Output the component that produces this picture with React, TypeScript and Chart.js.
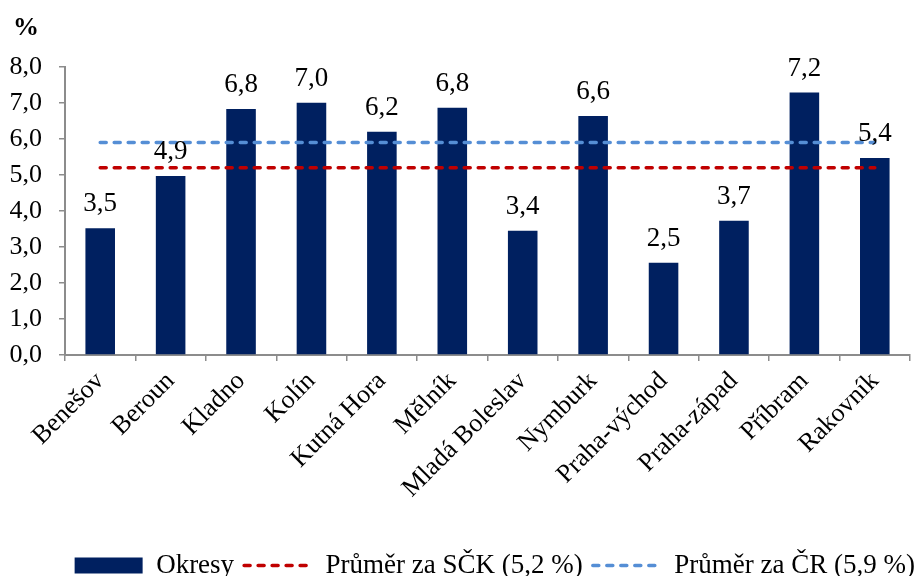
import React, { useEffect, useRef } from "react";
import { Chart, registerables } from "chart.js";

Chart.register(...registerables);

const categories = [
  "Benešov", "Beroun", "Kladno", "Kolín", "Kutná Hora", "Mělník",
  "Mladá Boleslav", "Nymburk", "Praha-východ", "Praha-západ", "Příbram", "Rakovník",
];
const okresy = [3.52, 4.97, 6.83, 7.01, 6.2, 6.87, 3.45, 6.64, 2.56, 3.73, 7.29, 5.47];
const okresyLabels = ["3,5", "4,9", "6,8", "7,0", "6,2", "6,8", "3,4", "6,6", "2,5", "3,7", "7,2", "5,4"];
const prumerSCK = [5.2, 5.2, 5.2, 5.2, 5.2, 5.2, 5.2, 5.2, 5.2, 5.2, 5.2, 5.2];
const prumerCR = [5.9, 5.9, 5.9, 5.9, 5.9, 5.9, 5.9, 5.9, 5.9, 5.9, 5.9, 5.9];
const yTicks = [0, 1, 2, 3, 4, 5, 6, 7, 8];
const seriesNames = ["Okresy", "Průměr za SČK (5,2 %)", "Průměr za ČR (5,9 %)"];
const seriesColors = ["#002060", "#C00000", "#558ED5"];

const FONT = "'Liberation Serif', 'Times New Roman', serif";
const AXIS = "#8c8c8c";
const DASH = [6, 8];
const PAD_BOTTOM = -13;

const valueLabelPlugin = {
  id: "valueLabels",
  afterDatasetsDraw(chart: any) {
    const meta = chart.getDatasetMeta(0);
    const ctx = chart.ctx;
    ctx.save();
    ctx.font = `27px ${FONT}`;
    ctx.fillStyle = "#000";
    ctx.textAlign = "center";
    ctx.textBaseline = "alphabetic";
    meta.data.forEach((el: any, i: number) => {
      ctx.fillText(okresyLabels[i], el.x, el.y - 17);
    });
    ctx.restore();
  },
};

const percentPlugin = {
  id: "percentTitle",
  afterDraw(chart: any) {
    const ctx = chart.ctx;
    ctx.save();
    ctx.font = `bold 26px ${FONT}`;
    ctx.fillStyle = "#000";
    ctx.textAlign = "left";
    ctx.textBaseline = "alphabetic";
    ctx.fillText("%", 13, 35);
    ctx.restore();
  },
};

export default function App() {
  const ref = useRef<HTMLCanvasElement | null>(null);

  useEffect(() => {
    document.body.style.margin = "0";
    if (!ref.current) return;
    const chart = new Chart(ref.current, {
      type: "bar",
      data: {
        labels: categories,
        datasets: [
          {
            type: "bar",
            label: seriesNames[0],
            data: okresy,
            backgroundColor: seriesColors[0],
            borderWidth: 0,
            barPercentage: 0.84,
            categoryPercentage: 0.5,
            yAxisID: "y",
            order: 2,
          } as any,
          {
            type: "line",
            label: seriesNames[1],
            data: prumerSCK,
            borderColor: seriesColors[1],
            backgroundColor: seriesColors[1],
            borderWidth: 3.5,
            borderDash: DASH,
            borderCapStyle: "round",
            pointRadius: 0,
            fill: false,
            yAxisID: "y",
            order: 1,
          } as any,
          {
            type: "line",
            label: seriesNames[2],
            data: prumerCR,
            borderColor: seriesColors[2],
            backgroundColor: seriesColors[2],
            borderWidth: 3.5,
            borderDash: DASH,
            borderCapStyle: "round",
            pointRadius: 0,
            fill: false,
            yAxisID: "y",
            order: 0,
          } as any,
        ],
      },
      options: {
        animation: false,
        responsive: true,
        maintainAspectRatio: false,
        layout: { padding: { left: 0, right: -8, top: 67, bottom: PAD_BOTTOM } },
        plugins: {
          title: { display: false },
          tooltip: { enabled: false },
          legend: {
            display: true,
            position: "bottom",
            align: "end",
            labels: {
              font: { family: FONT, size: 27 },
              color: "#000",
              usePointStyle: true,
              pointStyleWidth: 68,
              boxHeight: 16,
              padding: 10,
              generateLabels: () =>
                seriesNames.map((name, i) => ({
                  text: name,
                  datasetIndex: i,
                  hidden: false,
                  fillStyle: seriesColors[i],
                  strokeStyle: seriesColors[i],
                  fontColor: "#000",
                  lineWidth: i === 0 ? 0 : 3.5,
                  lineDash: i === 0 ? [] : DASH,
                  lineCap: "round",
                  pointStyle: i === 0 ? "rect" : "line",
                })),
            },
          },
        },
        scales: {
          x: {
            offset: true,
            grid: {
              display: true,
              offset: true,
              drawOnChartArea: false,
              drawTicks: true,
              tickLength: 6,
              color: AXIS,
              lineWidth: 1.5,
            },
            border: { display: true, color: AXIS, width: 2 },
            ticks: {
              font: { family: FONT, size: 26 },
              color: "#000",
              minRotation: 45,
              maxRotation: 45,
              autoSkip: false,
              padding: 5,
            },
            afterFit(scale: any) {
              const lh = scale.chart.legend ? scale.chart.legend.height : 0;
              scale.height = 576 - PAD_BOTTOM - 355 - lh;
            },
          },
          y: {
            min: 0,
            max: 8,
            grid: {
              display: true,
              drawOnChartArea: false,
              drawTicks: true,
              tickLength: 6,
              color: AXIS,
              lineWidth: 1.5,
            },
            border: { display: true, color: AXIS, width: 2 },
            afterBuildTicks(scale: any) {
              scale.ticks = yTicks.map((v) => ({ value: v }));
            },
            ticks: {
              font: { family: FONT, size: 26 },
              color: "#000",
              padding: 17,
              callback: (v: any) => Number(v).toFixed(1).replace(".", ","),
            },
            afterFit(scale: any) {
              scale.width = 65;
            },
          },
          yRight: {
            type: "linear",
            position: "right",
            display: true,
            grid: { display: false, drawTicks: false },
            border: { display: false },
            ticks: { display: false },
            afterFit(scale: any) {
              scale.width = 15;
            },
          },
        },
      },
      plugins: [valueLabelPlugin, percentPlugin],
    });
    return () => chart.destroy();
  }, []);

  return (
    <div style={{ position: "absolute", left: 0, top: 0, width: 917, height: 576, background: "#fff" }}>
      <canvas ref={ref} />
    </div>
  );
}
